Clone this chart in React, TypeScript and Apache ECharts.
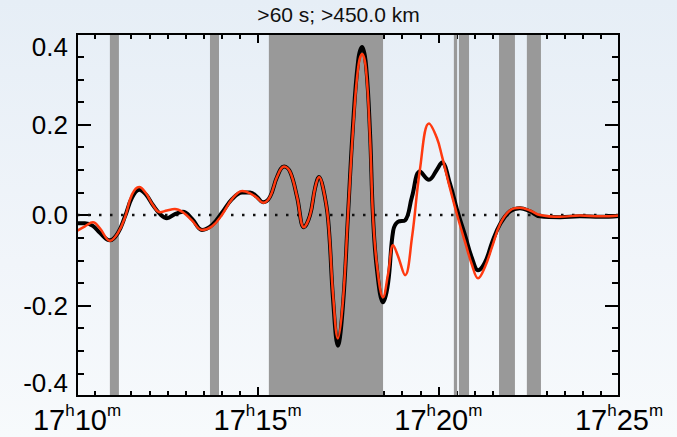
import React, { useEffect, useRef } from 'react';
import * as echarts from 'echarts';

const TITLE = '>60 s; >450.0 km';

// time in minutes after 17h10m
const timeMin = [
  0, 0.22, 0.44, 0.64, 0.91, 1.13, 1.33, 1.52, 1.72, 1.91, 2.1, 2.3, 2.49, 2.71, 2.93, 3.18,
  3.46, 3.74, 4.01, 4.29, 4.57, 4.79, 4.98, 5.15, 5.34, 5.54, 5.73, 5.9, 6.09, 6.28, 6.45,
  6.59, 6.7, 6.81, 6.95, 7.09, 7.22, 7.36, 7.5, 7.64, 7.78, 7.89, 8.0, 8.11, 8.19, 8.3, 8.47,
  8.61, 8.75, 8.88, 9.08, 9.27, 9.49, 9.74, 9.96, 10.1, 10.32, 10.52, 10.74, 10.93, 11.1,
  11.29, 11.49, 11.71, 11.98, 12.26, 12.54, 12.81, 13.37, 13.92, 14.48, 15,
];

const blackVals = [
  -0.018, -0.018, -0.024, -0.04, -0.056, -0.04, -0.003, 0.038, 0.056, 0.045, 0.022, 0.002,
  -0.007, 0.002, 0.007, -0.008, -0.033, -0.022, 0.005, 0.035, 0.05, 0.05, 0.04, 0.028, 0.04,
  0.085, 0.107, 0.095, 0.04, -0.027, 0.0, 0.06, 0.084, 0.06, -0.01, -0.19, -0.289, -0.2, 0.0,
  0.2, 0.34, 0.371, 0.33, 0.18, 0.0, -0.12, -0.193, -0.15, -0.035, -0.015, -0.012, 0.04, 0.096,
  0.078, 0.1, 0.116, 0.07, 0.011, -0.045, -0.095, -0.122, -0.105, -0.06, -0.02, 0.008, 0.015,
  0.008, -0.003, -0.005, -0.003, -0.004, -0.002,
];

const redVals = [
  -0.035, -0.025, -0.016, -0.03, -0.057, -0.04, -0.005, 0.045, 0.062, 0.048, 0.022, 0.006,
  0.01, 0.013, 0.006, -0.012, -0.033, -0.025, 0.0, 0.035, 0.053, 0.048, 0.038, 0.027, 0.04,
  0.085, 0.107, 0.095, 0.04, -0.027, 0.0, 0.06, 0.084, 0.06, -0.01, -0.18, -0.273, -0.19, 0.0,
  0.19, 0.325, 0.356, 0.32, 0.17, 0.0, -0.11, -0.182, -0.13, -0.067, -0.09, -0.133, -0.05, 0.1,
  0.202, 0.17, 0.13, 0.06, 0.0, -0.06, -0.11, -0.14, -0.115, -0.07, -0.02, 0.01, 0.016, 0.01,
  0.0, -0.004, -0.001, -0.003, -0.001,
];

// grey data gaps (minutes after 17h10m)
const bandStarts = [0.91, 3.68, 5.31, 10.43, 10.57, 11.68, 12.45];
const bandEnds = [1.16, 3.93, 8.47, 10.52, 10.85, 12.12, 12.84];

const xTickMinutes = [0, 5, 10, 15];
const xTickHours = ['17', '17', '17', '17'];
const xTickMins = ['10', '15', '20', '25'];

const yMin = -0.4;
const yMax = 0.4;

const FONT = '"Liberation Sans", Arial, Helvetica, sans-serif';

export default function App() {
  const ref = useRef<HTMLDivElement>(null);
  useEffect(() => {
    if (!ref.current) return;
    const chart = echarts.init(ref.current, undefined, { renderer: 'svg' });
    const black = timeMin.map((t, i) => [t, blackVals[i]]);
    const red = timeMin.map((t, i) => [t, redVals[i]]);
    const bands = bandStarts.map((s, i) => [{ xAxis: s }, { xAxis: bandEnds[i] }]);

    const xAxisBase = {
      type: 'value',
      min: 0,
      max: 15,
      interval: 5,
      axisLine: { show: false, onZero: false },
      splitLine: { show: false },
      axisTick: { show: true, inside: true, length: 9, lineStyle: { color: '#000', width: 2 } },
      minorTick: { show: true, splitNumber: 10, length: 5, lineStyle: { color: '#000', width: 2 } },
    };
    const yAxisBase = {
      type: 'value',
      min: yMin,
      max: yMax,
      interval: 0.2,
      axisLine: { show: false, onZero: false },
      splitLine: { show: false },
      axisTick: { show: true, inside: true, length: 14, lineStyle: { color: '#000', width: 2 } },
      minorTick: { show: true, splitNumber: 4, length: 7, lineStyle: { color: '#000', width: 2 } },
    };

    chart.setOption({
      animation: false,
      graphic: [
        {
          type: 'text',
          left: 'center',
          top: 4,
          style: {
            text: TITLE,
            fontSize: 21,
            fontFamily: 'Liberation Sans',
            fill: '#111',
          },
        },
      ],
      grid: {
        left: 77,
        right: 58,
        top: 34,
        bottom: 41,
        show: true,
        borderColor: '#000',
        borderWidth: 2,
        backgroundColor: 'transparent',
        z: 10,
      },
      xAxis: [
        {
          ...xAxisBase,
          position: 'bottom',
          axisLabel: {
            show: true,
            margin: 6,
            formatter: (v: number) => {
              const i = xTickMinutes.indexOf(v);
              if (i < 0) return '';
              return `{n|${xTickHours[i]}}{s|h}{n|${xTickMins[i]}}{s|m}`;
            },
            rich: {
              n: { fontFamily: FONT, fontSize: 29, color: '#000', lineHeight: 29, padding: [6, 0, 0, 0] },
              s: { fontFamily: FONT, fontSize: 17, color: '#000', verticalAlign: 'top', lineHeight: 17 },
            },
          },
        },
        { ...xAxisBase, position: 'top', axisLabel: { show: false } },
      ],
      yAxis: [
        {
          ...yAxisBase,
          position: 'left',
          axisLabel: {
            show: true,
            margin: 9,
            fontFamily: FONT,
            fontSize: 26,
            color: '#000',
            formatter: (v: number) => v.toFixed(1),
            verticalAlignMaxLabel: 'top',
            verticalAlignMinLabel: 'bottom',
          },
        },
        { ...yAxisBase, position: 'right', axisLabel: { show: false } },
      ],
      series: [
        {
          type: 'line',
          data: [],
          silent: true,
          z: 1,
          markArea: {
            silent: true,
            itemStyle: { color: '#999999', opacity: 1 },
            data: bands,
          },
        },
        {
          type: 'line',
          data: [[0, 0], [15, 0]],
          symbol: 'none',
          silent: true,
          z: 2,
          lineStyle: { color: '#111', width: 2.5, type: [2.5, 8.5] },
        },
        {
          type: 'line',
          data: black,
          symbol: 'none',
          smooth: 0.4,
          z: 3,
          lineStyle: { color: '#000', width: 4 },
        },
        {
          type: 'line',
          data: red,
          symbol: 'none',
          smooth: 0.4,
          z: 4,
          lineStyle: { color: '#ff3a10', width: 2.5 },
        },
      ],
    });
    return () => chart.dispose();
  }, []);

  return (
    <div
      style={{
        position: 'fixed',
        left: 0,
        top: 0,
        width: 677,
        height: 437,
        background: 'linear-gradient(to bottom, #e6eef6 0%, #f1f5fa 60%, #f7fafc 100%)',
      }}
    >
      <div ref={ref} style={{ width: 677, height: 437 }} />
    </div>
  );
}
